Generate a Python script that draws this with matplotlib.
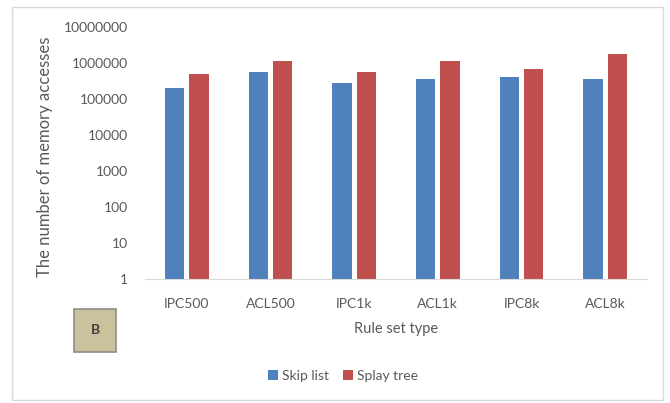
import numpy as np
import matplotlib.pyplot as plt
from matplotlib.patches import Rectangle

# valores (escala log)
tipos = ["IPC500", "ACL500", "IPC1k", "ACL1k", "IPC8k", "ACL8k"]
skip_list = [204000, 575000, 284000, 365000, 400000, 365000]
splay_tree = [485000, 1150000, 575000, 1150000, 680000, 1800000]
yticks = [1, 10, 100, 1000, 10000, 100000, 1000000, 10000000]

cinza = "#595959"
plt.rcParams["font.family"] = ["Lato", "DejaVu Sans"]

W, H = 670, 403
fig = plt.figure(figsize=(W / 100, H / 100), dpi=100)

# moldura externa da area do grafico
fig.patches.append(Rectangle((12 / W, 1 - 400 / H), 651 / W, 393 / H,
                             transform=fig.transFigure, fill=False,
                             edgecolor="#d9d9d9", linewidth=1))

ax = fig.add_axes([145 / W, 1 - 279 / H, 502 / W, 252 / H])

x = np.arange(len(tipos))
larg = 0.23
ax.bar(x - 0.145, skip_list, larg, color="#4f81bd", label="Skip list")
ax.bar(x + 0.145, splay_tree, larg, color="#c0504d", label="Splay tree")

ax.set_yscale("log")
ax.set_ylim(1, 10000000)
ax.set_xlim(-0.5, len(tipos) - 0.5)
ax.set_yticks(yticks)
ax.set_yticklabels([str(v) for v in yticks])
ax.minorticks_off()
ax.set_xticks(x)
ax.set_xticklabels(tipos)
ax.tick_params(length=0, colors=cinza, labelsize=10)
ax.tick_params(axis="x", pad=14)
ax.tick_params(axis="y", pad=12)

for s in ["top", "right", "left"]:
    ax.spines[s].set_visible(False)
ax.spines["bottom"].set_color("#d9d9d9")

ax.set_xlabel("Rule set type", color=cinza, fontsize=10.5, labelpad=8)
fig.text(45 / W, 1 - 157 / H, "The number of memory accesses", rotation=90,
         ha="center", va="center", color=cinza, fontsize=12)

# caixa "B"
fig.patches.append(Rectangle((74 / W, 1 - 352 / H), 42 / W, 43 / H,
                             transform=fig.transFigure, facecolor="#c9c29c",
                             edgecolor="#8c8c8c", linewidth=1.2))
fig.text(95 / W, 1 - 330 / H, "B", ha="center", va="center",
         fontsize=10, fontweight="bold", color="#404040")

leg = fig.legend(loc="center", bbox_to_anchor=(343 / W, 1 - 376 / H), ncol=2,
                 frameon=False, fontsize=10, handlelength=0.7, handleheight=0.7,
                 handletextpad=0.3, columnspacing=1.0)
for t in leg.get_texts():
    t.set_color(cinza)

fig.savefig("out.png", dpi=100)
